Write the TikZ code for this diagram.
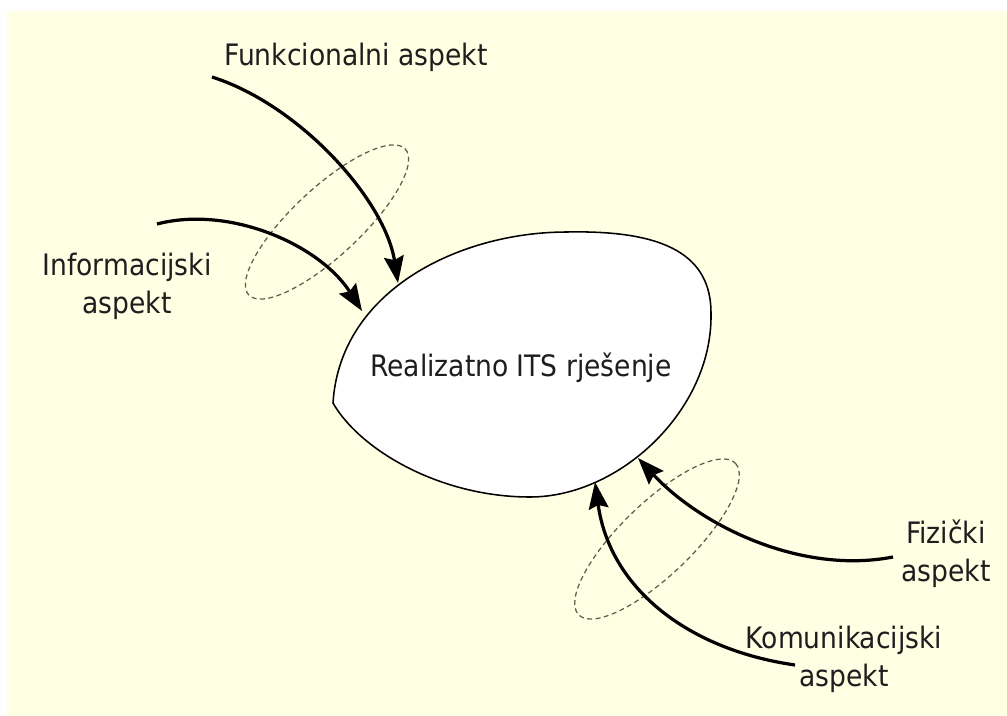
\documentclass[tikz,border=0pt]{standalone}
\usepackage{fontspec}
\setmainfont{DejaVu Sans Condensed}
\usetikzlibrary{arrows.meta}
\definecolor{cream}{RGB}{255,255,228}
\definecolor{inkgray}{RGB}{30,30,30}
\definecolor{dashgray}{RGB}{95,95,80}
\tikzstyle{arrow} = [line width=2.3pt, -{Stealth[length=19pt,width=14pt,inset=2.5pt]}]

\begin{document}
\begin{tikzpicture}[x=0.025cm, y=-0.025cm,
			aspect/.style={
					font=\fontsize{21}{27}\selectfont,
					align=center,
					inner sep=0pt,
					text=inkgray,
				},
			group/.style={
					draw=dashgray,
					dash pattern=on 3.5pt off 2.5pt,
					line width=0.9pt,
				},
			blob/.style={
					draw=black,
					fill=white,
					line width=1.1pt,
				}
		]

		% Background
		\useasboundingbox (0,0) rectangle (1007,716);
		\fill[white] (0,0) rectangle (1007,716);
		\fill[cream] (7,11) rectangle (1007,716);

		% Dashed groups
		\coordinate (topgroup) at (327,222);
		\coordinate (botgroup) at (657,539);
		\draw[group, rotate around={43:(topgroup)}] (topgroup) ellipse [x radius=107, y radius=34];
		\draw[group, rotate around={44:(botgroup)}] (botgroup) ellipse [x radius=109, y radius=36];

		% ITS solution
		\draw[blob] (333,403) .. controls (340,290) and (460,232) .. (567,232)
			.. controls (665,230) and (712,255) .. (711,315)
			.. controls (712,410) and (620,497) .. (530,497)
			.. controls (440,497) and (360,450) .. (333,403) -- cycle;
		\node[aspect, anchor=base] (core) at (521,376) {Realizatno ITS rješenje};

		% Arrow ends
		\coordinate (funstart) at (212,77);
		\coordinate (funtip) at (398,283);
		\coordinate (infostart) at (157,224);
		\coordinate (infotip) at (362,311);
		\coordinate (fizstart) at (893,557);
		\coordinate (fiztip) at (638,458);
		\coordinate (komstart) at (795,665);
		\coordinate (komtip) at (595,482);

		% Aspects
		\node[aspect, anchor=base] (funlabel) at (356,66) {Funkcionalni aspekt};
		\node[aspect] (infolabel) at (127,286) {Informacijski\\aspekt};
		\node[aspect] (fizlabel) at (946,554) {Fizički\\aspekt};
		\node[aspect] (komlabel) at (844,659) {Komunikacijski\\aspekt};

		% Connections
		\draw[arrow] (funstart) .. controls (300,105) and (385,200) .. (funtip);
		\draw[arrow] (infostart) .. controls (230,205) and (320,245) .. (infotip);
		\draw[arrow] (fizstart) .. controls (800,575) and (700,525) .. (fiztip);
		\draw[arrow] (komstart) .. controls (690,650) and (610,590) .. (komtip);

	\end{tikzpicture}
\end{document}
